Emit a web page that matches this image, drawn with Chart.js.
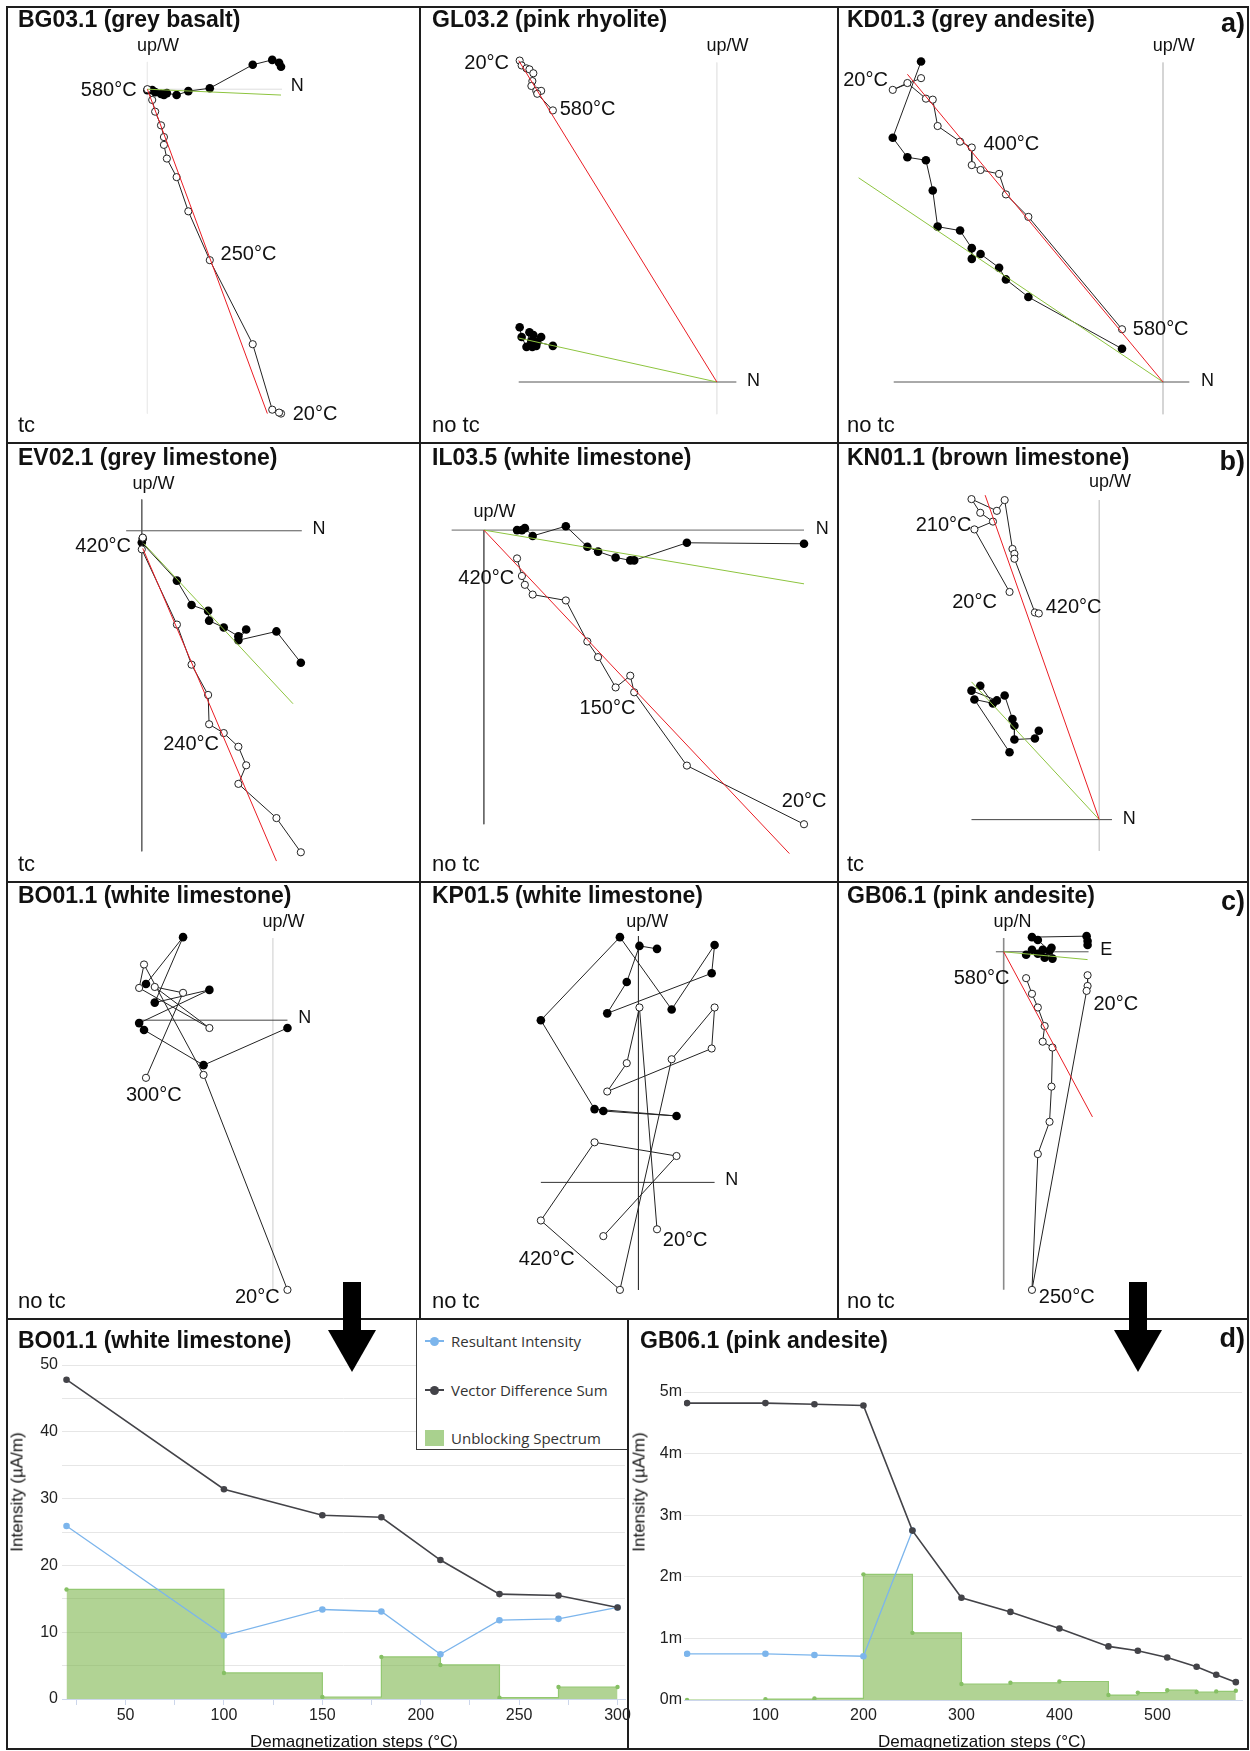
<!DOCTYPE html>
<html>
<head>
<meta charset="utf-8">
<title>Demagnetization diagrams</title>
<script src="https://cdn.jsdelivr.net/npm/chart.js@4.4.1/dist/chart.umd.min.js"></script>
<style>
  html,body{margin:0;padding:0;background:#fff;}
  #fig{position:relative;width:1250px;height:1751px;overflow:hidden;background:#fff;
       font-family:"Liberation Sans",Arial,Helvetica,sans-serif;color:#111;}
  #fig canvas{position:absolute;}
  .txt{position:absolute;white-space:nowrap;line-height:1;z-index:3;}
  .rule{position:absolute;background:#1e1e1e;z-index:6;}
  .legend{position:absolute;z-index:5;background:#fff;border:1px solid #3a3a3a;box-sizing:border-box;
          font-family:"Open Sans",sans-serif;font-size:15px;color:#333;}
  .legend div{position:absolute;}
</style>
</head>
<body>
<div id="fig"></div>
<script>
// ---------- orthogonal demagnetization vectors ----------
// *_X : north component (east for GB06.1), shared by both projections
// *_H : horizontal-plane component (filled symbols), *_V : vertical component (open symbols)
// Steps run from 20 °C upward. Arbitrary units.
const BG03_X = [137, 135, 128, 108, 64, 42, 30, 20, 17, 17, 14, 8, 5, 0];
const BG03_H = [23, 27, 30, 25, 1, -2, -6, -4, -6, -5, -5, -3, -1, -1];
const BG03_V = [-332, -331, -328, -261, -175, -125, -90, -71, -57, -49, -37, -23, -11, 0];
const BG03_FIT_H = [[0, 0], [137, -6]];
const BG03_FIT_V = [[0, 0], [123, -332]];

const GL03_X = [-202, -200, -195, -192, -188, -189, -190, -185, -180, -184, -168];
const GL03_H = [56, 46, 36, 51, 48, 36, 42, 37, 46, 41, 37];
const GL03_V = [329, 324, 321, 320, 316, 308, 303, 298, 298, 295, 278];
const GL03_FIT_H = [[0, 0], [-203, 45]];
const GL03_FIT_V = [[0, 0], [-203, 329]];

const KD01_X = [-248, -277, -262, -243, -236, -231, -208, -196, -196, -187, -168, -161, -138, -42];
const KD01_H = [328, 250, 230, 227, 196, 159, 155, 137, 126, 131, 117, 105, 87, 34];
const KD01_V = [311, 299, 306, 290, 289, 262, 246, 240, 222, 217, 213, 192, 169, 54];
const KD01_FIT_H = [[0, 0], [-312, 209]];
const KD01_FIT_V = [[0, 0], [-262, 315]];

const EV02_X = [163, 138, 99, 107, 99, 84, 69, 68, 51, 36, 0, 1];
const EV02_H = [-135, -103, -112, -101, -108, -99, -92, -82, -76, -51, -12, -8];
const EV02_V = [-329, -294, -259, -240, -221, -207, -198, -168, -137, -96, -19, -7];
const EV02_FIT_H = [[2, -13], [155, -177]];
const EV02_FIT_V = [[1, -18], [138, -338]];

const IL03_X = [328, 208, 154, 150, 135, 117, 106, 84, 50, 42, 39, 34];
const IL03_H = [-14, -13, -31, -31, -28, -22, -17, 4, -6, 2, 0, 0];
const IL03_V = [-301, -241, -166, -149, -161, -130, -114, -72, -66, -56, -47, -29];
const IL03_FIT_H = [[0, 0], [328, -55]];
const IL03_FIT_V = [[0, 0], [313, -331]];

const KN01_X = [-92, -128, -109, -122, -131, -105, -97, -89, -87, -87, -66, -62];
const KN01_H = [69, 123, 119, 137, 132, 122, 127, 103, 96, 82, 83, 91];
const KN01_V = [233, 297, 305, 314, 328, 316, 327, 277, 272, 267, 212, 211];
const KN01_FIT_H = [[0, 0], [-131, 141]];
const KN01_FIT_V = [[0, 0], [-117, 332]];

const BO01_X = [15, -71, -132, -137, -65, -121, -92, -130];
const BO01_H = [-8, -46, -10, -3, 31, 18, 85, 37];
const BO01_V = [-276, -56, 57, 33, -8, 34, 28, -59];

const KP01_X = [19, 1, -12, -32, 75, 78, 34, -19, -100, -45, 39, -36];
const KP01_H = [239, 242, 205, 173, 214, 243, 177, 251, 166, 75, 68, 73];
const KP01_V = [-48, 179, 122, 93, 137, 179, 126, -110, -39, 41, 27, -55];

const GB06_X = [86, 86, 85, 29, 35, 47, 49, 50, 40, 42, 35, 29, 23];
const GB06_H = [7, 11, 16, 15, 12, 1, 4, -7, 2, -6, -2, 2, -3];
const GB06_V = [-24, -35, -40, -346, -207, -174, -138, -98, -92, -76, -57, -43, -27];
const GB06_FIT_H = [[0, 0], [86, -8]];
const GB06_FIT_V = [[0, 0], [91, -169]];

// ---------- intensity decay curves ----------
const BO01_STEPS = [20, 100, 150, 180, 210, 240, 270, 300];
const BO01_RESULTANT = [25.9, 9.5, 13.4, 13.1, 6.7, 11.8, 12.0, 13.7];
const BO01_VDS = [47.8, 31.4, 27.5, 27.2, 20.8, 15.7, 15.5, 13.7];
const BO01_UNBLOCKING = [16.4, 3.9, 0.3, 6.3, 5.1, 0.2, 1.8, 1.8];

const GB06_STEPS = [20, 100, 150, 200, 250, 300, 350, 400, 450, 480, 510, 540, 560, 580];
const GB06_RESULTANT = [0.00075, 0.00075, 0.00073, 0.00071, 0.00275, null, null, null, null, null, null, null, null, null];
const GB06_VDS = [0.00482, 0.00482, 0.0048, 0.00478, 0.00275, 0.00166, 0.00143, 0.00116, 0.00087, 0.0008, 0.00069, 0.00054, 0.00041, 0.00029];
const GB06_UNBLOCKING = [0, 0.000015, 0.000025, 0.00204, 0.00109, 0.00026, 0.00028, 0.0003, 0.00008, 0.00012, 0.00016, 0.00013, 0.00014, 0.00015];

// ---------- page helpers ----------
Chart.defaults.font.family = '"Liberation Sans", Arial, sans-serif';
Chart.defaults.color = '#222';
const fig = document.getElementById('fig');

function addCanvas(left, top, w, h) {
  const c = document.createElement('canvas');
  c.width = w; c.height = h;
  c.style.left = left + 'px'; c.style.top = top + 'px';
  c.style.width = w + 'px'; c.style.height = h + 'px';
  fig.appendChild(c);
  return c;
}
function addText(str, x, base, size, opts = {}) {
  const d = document.createElement('div');
  d.className = 'txt';
  d.textContent = str;
  d.style.fontSize = size + 'px';
  if (opts.bold) d.style.fontWeight = 'bold';
  d.style.top = (base - 0.8465 * size) + 'px';
  if (opts.right != null) d.style.right = opts.right + 'px';
  else d.style.left = x + 'px';
  if (opts.center) d.style.transform = 'translateX(-50%)';
  fig.appendChild(d);
  return d;
}
function addBox(left, top, w, h, cls, extra = {}) {
  const d = document.createElement('div');
  d.className = cls || '';
  Object.assign(d.style, {position: 'absolute', left: left + 'px', top: top + 'px', width: w + 'px', height: h + 'px'}, extra);
  fig.appendChild(d);
  return d;
}

// ---------- Zijderveld panels ----------
const COLS = [7, 420, 838, 1248];
const ROWS = [7, 443, 882, 1319];

function labelLayer(items) {
  return {
    id: 'stepLabels',
    afterDatasetsDraw(chart) {
      const {ctx, scales: {x, y}} = chart;
      ctx.save();
      ctx.fillStyle = '#111';
      ctx.textBaseline = 'middle';
      items.forEach(([t, lx, ly, align, size]) => {
        ctx.font = (size || 20) + 'px "Liberation Sans", Arial, sans-serif';
        ctx.textAlign = align;
        ctx.fillText(t, x.getPixelForValue(lx), y.getPixelForValue(ly));
      });
      ctx.restore();
    }
  };
}
const pairs = (xs, ys) => xs.map((v, i) => ({x: v, y: ys[i]}));
const segment = a => a.map(([x, y]) => ({x, y}));

function zijderveld(p) {
  const L = COLS[p.col], T = ROWS[p.row];
  const W = COLS[p.col + 1] - L, H = ROWS[p.row + 1] - T;
  const cv = addCanvas(L, T, W, H);
  const line = (data, color, width, order) => ({data, borderColor: color, borderWidth: width, pointRadius: 0, showLine: true, order});
  const ds = [
    line(segment(p.axH), p.axHc, 1, 9),
    line(segment(p.axV), p.axVc, p.axVw || 1, 9),
    {data: pairs(p.x, p.h), showLine: true, borderColor: '#222', borderWidth: 1,
     pointRadius: 4.3, pointBackgroundColor: '#000', pointBorderColor: '#000', pointBorderWidth: 0, order: 4},
    {data: pairs(p.x, p.v), showLine: true, borderColor: '#222', borderWidth: 1,
     pointRadius: 3.6, pointBackgroundColor: '#fff', pointBorderColor: '#222', pointBorderWidth: 1, order: 3}
  ];
  if (p.fitV) ds.push(line(segment(p.fitV), '#ea1d24', 1, 1));
  if (p.fitH) ds.push(line(segment(p.fitH), '#8dc43f', 1, 1));
  new Chart(cv, {
    type: 'scatter',
    data: {datasets: ds},
    options: {
      responsive: false, animation: false, events: [],
      layout: {padding: 0},
      plugins: {legend: {display: false}, tooltip: {enabled: false}},
      scales: {
        x: {type: 'linear', display: false, min: -p.ox, max: W - p.ox},
        y: {type: 'linear', display: false, min: p.oy - H, max: p.oy}
      }
    },
    plugins: [labelLayer(p.labels)]
  });
}

const PANELS = [
  {col: 0, row: 0, ox: 138.7, oy: 79, x: BG03_X, h: BG03_H, v: BG03_V, fitH: BG03_FIT_H, fitV: BG03_FIT_V,
   axH: [[0, 0], [138, 0]], axHc: '#dedede', axV: [[0, 28], [0, -332]], axVc: '#ececec',
   labels: [['up/W', 11, 44, 'center', 18], ['N', 147, 3, 'left', 18], ['580°C', -11, -1, 'right'],
            ['250°C', 75, -169, 'left'], ['20°C', 149, -333, 'left']]},
  {col: 1, row: 0, ox: 299, oy: 378.7, x: GL03_X, h: GL03_H, v: GL03_V, fitH: GL03_FIT_H, fitV: GL03_FIT_V,
   axH: [[-203, 0], [20, 0]], axHc: '#555', axV: [[0, 327], [0, -33]], axVc: '#eaeaea',
   labels: [['up/W', 11, 344, 'center', 18], ['N', 31, 1, 'left', 18], ['20°C', -213, 326, 'right'],
            ['580°C', -161, 279, 'left']]},
  {col: 2, row: 0, ox: 328, oy: 378.7, x: KD01_X, h: KD01_H, v: KD01_V, fitH: KD01_FIT_H, fitV: KD01_FIT_V,
   axH: [[-276, 0], [27, 0]], axHc: '#555', axV: [[0, 327], [0, -33]], axVc: '#cfcfcf',
   labels: [['up/W', 11, 344, 'center', 18], ['N', 39, 1, 'left', 18], ['20°C', -282, 309, 'right'],
            ['400°C', -184, 243, 'left'], ['580°C', -31, 54, 'left']]},
  {col: 0, row: 1, ox: 133, oy: 84.7, x: EV02_X, h: EV02_H, v: EV02_V, fitH: EV02_FIT_H, fitV: EV02_FIT_V,
   axH: [[-16, 0], [164, 0]], axHc: '#555', axV: [[0, 32], [0, -328]], axVc: '#666',
   labels: [['up/W', 12, 48, 'center', 18], ['N', 175, 2, 'left', 18], ['420°C', -11, -16, 'right'],
            ['240°C', 22, -219, 'left']]},
  {col: 1, row: 1, ox: 60.3, oy: 84, x: IL03_X, h: IL03_H, v: IL03_V, fitH: IL03_FIT_H, fitV: IL03_FIT_V,
   axH: [[-33, 0], [328, 0]], axHc: '#666', axV: [[0, 0], [0, -301]], axVc: '#666',
   labels: [['up/W', 11, 18, 'center', 18], ['N', 340, 1, 'left', 18], ['420°C', 31, -50, 'right'],
            ['150°C', 98, -183, 'left'], ['20°C', 351, -278, 'right']]},
  {col: 2, row: 1, ox: 262.7, oy: 380.3, x: KN01_X, h: KN01_H, v: KN01_V, fitH: KN01_FIT_H, fitV: KN01_FIT_V,
   axH: [[-131, 0], [13, 0]], axHc: '#444', axV: [[0, 327], [0, -32]], axVc: '#cfcfcf',
   labels: [['up/W', 11, 345, 'center', 18], ['N', 24, 1, 'left', 18], ['210°C', -131, 301, 'right'],
            ['20°C', -105, 222, 'right'], ['420°C', -55, 217, 'left']]},
  {col: 0, row: 2, ox: 267.3, oy: 136.3, x: BO01_X, h: BO01_H, v: BO01_V,
   axH: [[-136, 0], [15, 0]], axHc: '#444', axV: [[0, 84], [0, -276]], axVc: '#e0e0e0',
   labels: [['up/W', 11, 100, 'center', 18], ['N', 26, 2, 'left', 18], ['300°C', -122, -77, 'center'],
            ['20°C', 7, -284, 'right']]},
  {col: 1, row: 2, ox: 218.7, oy: 302.3, x: KP01_X, h: KP01_H, v: KP01_V,
   axH: [[-100, 0], [78, 0]], axHc: '#333', axV: [[0, 252], [0, -110]], axVc: '#333',
   labels: [['up/W', 9, 266, 'center', 18], ['N', 89, 2, 'left', 18], ['420°C', -94, -79, 'center'],
            ['20°C', 25, -59, 'left']]},
  {col: 2, row: 2, ox: 164.7, oy: 66.3, x: GB06_X, h: GB06_H, v: GB06_V, fitH: GB06_FIT_H, fitV: GB06_FIT_V,
   axH: [[-8, 0], [87, 0]], axHc: '#555', axV: [[0, 14], [0, -346]], axVc: '#8a8a8a', axVw: 1.6,
   labels: [['up/N', 9, 30, 'center', 18], ['E', 99, 2, 'left', 18], ['580°C', 6, -27, 'right'],
            ['20°C', 92, -54, 'left'], ['250°C', 36, -354, 'left']]}
];
PANELS.forEach(zijderveld);

// ---------- intensity charts ----------
function intensity(o) {
  const cv = addCanvas(o.left, o.top, o.w, o.h);
  const pts = ys => o.steps.map((x, i) => ({x, y: ys[i]}));
  new Chart(cv, {
    type: 'line',
    data: {datasets: [
      {label: 'Vector Difference Sum', data: pts(o.vds), borderColor: '#434348', backgroundColor: '#434348',
       pointBackgroundColor: '#434348', borderWidth: 1.6, pointRadius: 3.3, pointBorderWidth: 0, order: 0},
      {label: 'Resultant Intensity', data: pts(o.ri), borderColor: '#7cb5ec', backgroundColor: '#7cb5ec',
       pointBackgroundColor: '#7cb5ec', borderWidth: 1.3, pointRadius: 3.3, pointBorderWidth: 0, order: 1},
      {label: 'Unblocking Spectrum', data: pts(o.ub), stepped: 'before', fill: 'origin',
       borderColor: '#93c872', backgroundColor: 'rgba(120,180,70,0.58)', pointBackgroundColor: '#86c064',
       borderWidth: 1.2, pointRadius: 2.2, pointBorderWidth: 0, order: 2}
    ]},
    options: {
      responsive: false, animation: false, events: [],
      layout: {padding: {left: 0, right: o.padR, top: o.padT, bottom: 0}},
      plugins: {legend: {display: false}, tooltip: {enabled: false}},
      scales: {
        x: {type: 'linear', min: o.xmin, max: o.xmax,
            afterBuildTicks: s => { s.ticks = o.xticks.map(v => ({value: v})); },
            afterFit: s => { s.height = o.xh; },
            ticks: {autoSkip: false, maxRotation: 0, padding: o.xpad, font: {size: 16}, color: '#222',
                    callback: v => o.xlab(v)},
            grid: {drawOnChartArea: false, drawTicks: o.xTickMarks, tickLength: 6, tickColor: '#ccd6eb'},
            border: {display: true, color: '#ccd6eb'}},
        y: {type: 'linear', min: 0, max: o.ymax,
            afterFit: s => { s.width = o.yw; },
            ticks: {autoSkip: false, stepSize: o.ystep, padding: o.ypad, font: {size: 16}, color: '#222',
                    callback: v => o.ylab(v)},
            grid: {color: '#e6e6e6', drawTicks: false},
            border: {display: false}}
      }
    }
  });
}

intensity({left: 7, top: 1319, w: 640, h: 430, padT: 46, padR: 22, yw: 55, xh: 50,
  steps: BO01_STEPS, vds: BO01_VDS, ri: BO01_RESULTANT, ub: BO01_UNBLOCKING,
  xmin: 17.7, xmax: 303.8, xticks: [25, 50, 75, 100, 125, 150, 175, 200, 225, 250, 275, 300],
  xlab: v => (v % 50 === 0 ? String(v) : ''), xTickMarks: true, xpad: 1,
  ymax: 50, ystep: 5, ylab: v => (v % 10 === 0 ? String(v) : ''), ypad: 4});

intensity({left: 628, top: 1319, w: 622, h: 430, padT: 73, padR: 8, yw: 56, xh: 49,
  steps: GB06_STEPS, vds: GB06_VDS, ri: GB06_RESULTANT, ub: GB06_UNBLOCKING,
  xmin: 16.9, xmax: 586.3, xticks: [100, 200, 300, 400, 500],
  xlab: v => String(v), xTickMarks: false, xpad: 6,
  ymax: 0.005, ystep: 0.001, ylab: v => Math.round(v * 1000) + 'm', ypad: 2});

// axis titles
[[17, 1492], [638.5, 1492]].forEach(([cx, cy]) => {
  const d = document.createElement('div');
  d.className = 'txt';
  d.textContent = 'Intensity (µA/m)';
  Object.assign(d.style, {fontSize: '17px', left: cx + 'px', top: cy + 'px',
    transform: 'translate(-50%,-50%) rotate(-90deg)'});
  fig.appendChild(d);
});
addText('Demagnetization steps (°C)', 354, 1747, 17, {center: true});
addText('Demagnetization steps (°C)', 982, 1747, 17, {center: true});

// legend
const lg = addBox(416, 1319, 212, 131, 'legend');
[['Resultant Intensity', '#7cb5ec', 21], ['Vector Difference Sum', '#434348', 70]].forEach(([t, c, cy]) => {
  const ln = document.createElement('div');
  Object.assign(ln.style, {left: '8px', top: (cy - 1) + 'px', width: '19px', height: '2px', background: c});
  const dot = document.createElement('div');
  Object.assign(dot.style, {left: '13px', top: (cy - 4.5) + 'px', width: '9px', height: '9px', borderRadius: '50%', background: c});
  const tx = document.createElement('div');
  Object.assign(tx.style, {left: '34px', top: (cy - 11) + 'px', height: '22px', lineHeight: '22px', whiteSpace: 'nowrap'});
  tx.textContent = t;
  lg.append(ln, dot, tx);
});
{
  const sq = document.createElement('div');
  Object.assign(sq.style, {left: '8px', top: '110px', width: '19px', height: '16px', background: '#a9d18e'});
  const tx = document.createElement('div');
  Object.assign(tx.style, {left: '34px', top: '107px', height: '22px', lineHeight: '22px', whiteSpace: 'nowrap'});
  tx.textContent = 'Unblocking Spectrum';
  lg.append(sq, tx);
}

// ---------- titles, tags ----------
const TITLES = [
  ['BG03.1 (grey basalt)', 18, 27.5], ['GL03.2 (pink rhyolite)', 432, 27.5], ['KD01.3 (grey andesite)', 847, 27.5],
  ['EV02.1 (grey limestone)', 18, 465.5], ['IL03.5 (white limestone)', 432, 465.5], ['KN01.1 (brown limestone)', 847, 465.5],
  ['BO01.1 (white limestone)', 18, 903.5], ['KP01.5 (white limestone)', 432, 903.5], ['GB06.1 (pink andesite)', 847, 903.5],
  ['BO01.1 (white limestone)', 18, 1348], ['GB06.1 (pink andesite)', 640, 1348]
];
TITLES.forEach(([t, x, b]) => addText(t, x, b, 23, {bold: true}));
const TC = [['tc', 18, 433], ['no tc', 432, 433], ['no tc', 847, 433],
            ['tc', 18, 872], ['no tc', 432, 872], ['tc', 847, 872],
            ['no tc', 18, 1308.5], ['no tc', 432, 1308.5], ['no tc', 847, 1308.5]];
TC.forEach(([t, x, b]) => addText(t, x, b, 22));
[['a)', 33], ['b)', 471], ['c)', 911], ['d)', 1348]].forEach(([t, b]) => addText(t, 0, b, 27, {bold: true, right: 5}));

// ---------- frame ----------
addBox(6, 6, 1243, 2, 'rule'); addBox(6, 1748, 1243, 2, 'rule');
addBox(6, 6, 2, 1744, 'rule'); addBox(1247, 6, 2, 1744, 'rule');
addBox(6, 442, 1243, 2, 'rule'); addBox(6, 881, 1243, 2, 'rule'); addBox(6, 1318, 1243, 2, 'rule');
addBox(419, 6, 2, 1313, 'rule'); addBox(837, 6, 2, 1313, 'rule'); addBox(627, 1319, 2, 431, 'rule');

// ---------- pointers from panel c to panel d ----------
[[352, 1282], [1138, 1282]].forEach(([cx, top]) => {
  addBox(cx - 9, top, 18, 50, '', {background: '#000', zIndex: 7});
  addBox(cx - 24, top + 48, 0, 0, '', {borderLeft: '24px solid transparent', borderRight: '24px solid transparent',
    borderTop: '42px solid #000', zIndex: 7});
});
</script>
</body>
</html>
